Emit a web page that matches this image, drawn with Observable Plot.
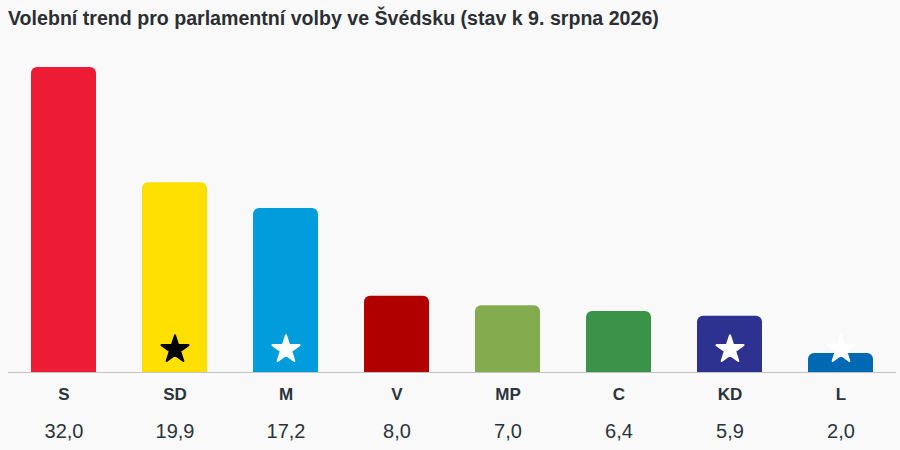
<!DOCTYPE html>
<html>
<head>
<meta charset="utf-8">
<script src="https://cdn.jsdelivr.net/npm/d3@7"></script>
<script src="https://cdn.jsdelivr.net/npm/@observablehq/plot@0.6"></script>
<style>
  html, body { margin: 0; padding: 0; background: #f9f9f9; }
  #title { font-family: "Liberation Sans", Arial, sans-serif; font-weight: bold; font-size: 19.6px; color: #2b2f33; padding: 7px 0 0 8px; height: 29px; line-height: 22px; white-space: nowrap; }
  #chart svg { display: block; }
</style>
</head>
<body>
<div id="title">Volební trend pro parlamentní volby ve Švédsku (stav k 9. srpna 2026)</div>
<div id="chart"></div>
<script>
const parties = ["S", "SD", "M", "V", "MP", "C", "KD", "L"];
const values = [32.0, 19.9, 17.2, 8.0, 7.0, 6.4, 5.9, 2.0];
const colors = ["#ed1b34", "#ffe000", "#019cdb", "#b00000", "#83ac4f", "#3a9349", "#2d3190", "#0069b4"];
const stars = ["", "black", "white", "", "", "", "white", "white"];

const data = parties.map((p, i) => ({party: p, value: values[i], color: colors[i], star: stars[i]}));
const starData = data.filter(d => d.star);
const fmt = v => v.toFixed(1).replace(".", ",");

const chart = Plot.plot({
  width: 900,
  height: 414,
  marginLeft: 8,
  marginRight: 4,
  marginTop: 31,
  marginBottom: 78,
  style: {background: "#f9f9f9", fontFamily: "'Liberation Sans', Arial, sans-serif"},
  x: {domain: parties, paddingInner: 0.414, paddingOuter: 0.207, axis: null},
  y: {domain: [0, 32], axis: null},
  marks: [
    Plot.barY(data, {x: "party", y: "value", fill: "color", rx: 6}),
    Plot.barY(data, {x: "party", y1: 0, y2: d => d.value / 2, fill: "color"}),
    Plot.ruleY([0], {stroke: "#c4c4c4", strokeWidth: 1.2}),
    Plot.dot(starData, {x: "party", y: 0, dy: -23, symbol: "star", r: 8.5, fill: "star", stroke: "star", strokeWidth: 2, strokeLinejoin: "round"}),
    Plot.text(data, {x: "party", y: 0, text: "party", dy: 27, lineAnchor: "bottom", fontSize: 17, fontWeight: "bold", fill: "#2b343c"}),
    Plot.text(data, {x: "party", y: 0, text: d => fmt(d.value), dy: 65, lineAnchor: "bottom", fontSize: 20, fill: "#2b343c"})
  ]
});
document.getElementById("chart").appendChild(chart);
</script>
</body>
</html>
